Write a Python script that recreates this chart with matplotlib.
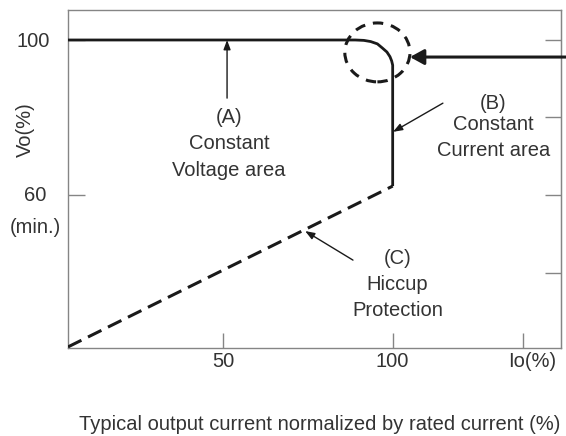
import matplotlib.pyplot as plt
import matplotlib.transforms as mtrans
from matplotlib.patches import Ellipse

plt.rcParams['font.family'] = ['Liberation Sans', 'DejaVu Sans']

# constant voltage / constant current curve
cv_x = [4.33, 89.0, 91.5, 93.5, 95.5, 97.0, 98.3, 99.2, 99.7, 100.0, 100.0]
cv_y = [100.0, 100.0, 99.9, 99.6, 99.0, 97.9, 96.9, 95.7, 94.6, 93.5, 62.3]

# hiccup protection (dashed)
hc_x = [4.33, 100.0]
hc_y = [20.8, 62.3]

x_ticks = [50, 100, 138.4]
x_ticklabels = ['50', '100', '']
y_ticks_left = [60, 100]
y_ticks_right = [40, 60, 80, 100]

txt_col = '#333333'
line_col = '#1a1a1a'
grey = '#858585'
fs = 14.5

fig = plt.figure(figsize=(5.66, 4.36), dpi=100)
ax = fig.add_axes([68 / 566, 88 / 436, 493 / 566, 338 / 436])
ax.set_xlim(4.33, 149.6)
ax.set_ylim(20.52, 107.74)

for s in ax.spines.values():
    s.set_color(grey)
    s.set_linewidth(1.0)

ax.plot(cv_x, cv_y, color=line_col, lw=2.0, solid_capstyle='butt', zorder=3)
ax.plot(hc_x, hc_y, color=line_col, lw=2.2, linestyle=(0, (4.9, 2.4)), zorder=3)

# dashed circle around the knee
ax.add_patch(Ellipse((95.5, 96.8), 19.2, 15.2, fill=False, ec=line_col, lw=2.2,
                     linestyle=(0, (3.4, 2.6)), zorder=4))

# big arrow from the right edge
ax.annotate('', xy=(105.1, 95.6), xytext=(151.5, 95.6), annotation_clip=False,
            arrowprops=dict(arrowstyle='-|>,head_length=0.4,head_width=0.22',
                            mutation_scale=21, lw=2.2, color=line_col,
                            shrinkA=0, shrinkB=0, clip_on=False))

# small pointer arrows
small = dict(arrowstyle='-|>,head_length=0.4,head_width=0.15', mutation_scale=14,
             lw=1.0, color=line_col, shrinkA=0, shrinkB=0)
ax.annotate('', xy=(51.2, 100.0), xytext=(51.2, 85.0), arrowprops=small)
ax.annotate('', xy=(100.1, 76.3), xytext=(114.8, 83.7), arrowprops=small)
ax.annotate('', xy=(74.2, 50.7), xytext=(88.3, 43.2), arrowprops=small)

# annotation texts
for t, y in [('(A)', 80.0), ('Constant', 73.4), ('Voltage area', 66.4)]:
    ax.text(51.8, y, t, ha='center', va='center', fontsize=fs, color=txt_col)
for t, y in [('(B)', 83.7), ('Constant', 78.1), ('Current area', 71.6)]:
    ax.text(129.6, y, t, ha='center', va='center', fontsize=fs, color=txt_col)
for t, y in [('(C)', 43.7), ('Hiccup', 36.8), ('Protection', 30.3)]:
    ax.text(101.4, y, t, ha='center', va='center', fontsize=fs, color=txt_col)

# ticks
ax.set_xticks(x_ticks)
ax.set_xticklabels(x_ticklabels)
ax.tick_params(axis='x', direction='in', length=10.8, width=1.0, color=grey,
               pad=3, labelsize=fs, labelcolor=txt_col)
ax.set_yticks(y_ticks_left)
ax.set_yticklabels(['', '100'])
ax.tick_params(axis='y', direction='in', length=12, width=1.0, color=grey,
               pad=13, labelsize=fs, labelcolor=txt_col)
ax.annotate('Io(%)', xy=(141.0, 0), xycoords=('data', 'axes fraction'),
            xytext=(0, -3), textcoords='offset points', ha='center', va='top',
            fontsize=fs, color=txt_col)

sec = ax.secondary_yaxis('right')
sec.set_yticks(y_ticks_right)
sec.set_yticklabels([])
sec.tick_params(direction='in', length=11.5, width=1.0, color=grey)
sec.spines['right'].set_color(grey)

tr = mtrans.blended_transform_factory(ax.transAxes, ax.transData)
ax.text(-33 / 493, 60, '60', transform=tr, ha='center', va='center',
        fontsize=fs, color=txt_col)
ax.text(-33 / 493, 51.7, '(min.)', transform=tr, ha='center', va='center',
        fontsize=fs, color=txt_col)

ax.text(-43 / 493, 0.645, 'Vo(%)', transform=ax.transAxes, rotation=90,
        ha='center', va='center', fontsize=fs, color=txt_col)
fig.text(320 / 566, 6 / 436, 'Typical output current normalized by rated current (%)',
         ha='center', va='baseline', fontsize=fs, color=txt_col)

fig.savefig('out.png', dpi=100)
